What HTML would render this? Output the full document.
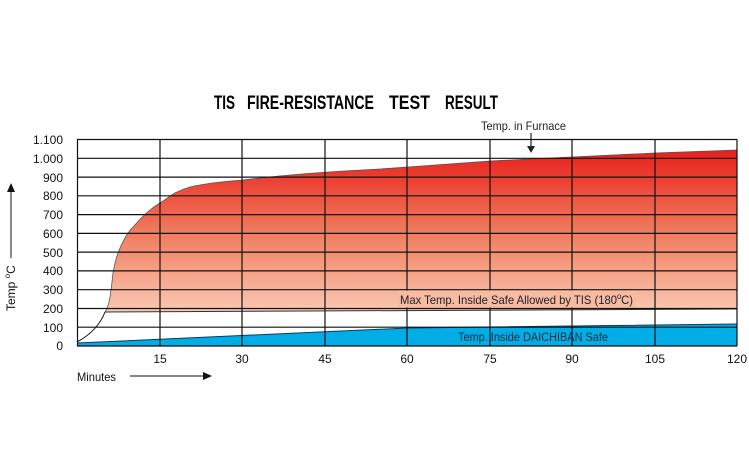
<!DOCTYPE html>
<html><head><meta charset="utf-8"><style>body{margin:0;background:#fff}svg{display:block}</style></head>
<body>
<svg width="749" height="473" viewBox="0 0 749 473" xmlns="http://www.w3.org/2000/svg" font-family="'Liberation Sans Narrow','Liberation Sans',sans-serif">
<defs>
<linearGradient id="rg" x1="0" y1="150" x2="0" y2="312" gradientUnits="userSpaceOnUse">
<stop offset="0" stop-color="#e8201c"/>
<stop offset="0.5" stop-color="#f07a5c"/>
<stop offset="1" stop-color="#fac8b2"/>
</linearGradient>
</defs>
<g font-size="19" font-weight="bold">
<text x="214" y="109" textLength="21" lengthAdjust="spacingAndGlyphs">TIS</text>
<text x="247" y="109" textLength="127" lengthAdjust="spacingAndGlyphs">FIRE-RESISTANCE</text>
<text x="389" y="109" textLength="41" lengthAdjust="spacingAndGlyphs">TEST</text>
<text x="445" y="109" textLength="53" lengthAdjust="spacingAndGlyphs">RESULT</text>
</g>
<path d="M105,312 C110,305 111,290 113,273 C115,262 116,258 118,253 C123,240 128,232 133,227 C140,219 145,214 150,210 C155,206 157,205 160,203 C168,198 172,194 177,192 C185,188 192,186 200,185 C215,182 230,181 243,180 C290,174 340,171 380,169 L408,167 L490,161 L572,157 L655,153 L737,150 L737,309 L105,312 Z" fill="url(#rg)"/>
<path d="M105,312 C110,305 111,290 113,273 C115,262 116,258 118,253 C123,240 128,232 133,227 C140,219 145,214 150,210 C155,206 157,205 160,203 C168,198 172,194 177,192 C185,188 192,186 200,185 C215,182 230,181 243,180 C290,174 340,171 380,169 L408,167 L490,161 L572,157 L655,153 L737,150" fill="none" stroke="#555" stroke-width="0.8"/>
<line x1="105" y1="312" x2="737" y2="309" stroke="#333" stroke-width="1"/>
<path d="M77,343 L408,328 L737,324 L737,346 L77,346 Z" fill="#00ade6"/>
<path d="M77,343 L408,328 L737,324" fill="none" stroke="#0b3b55" stroke-width="1"/>
<path d="M77,342 C90,335 100,325 105,312" fill="none" stroke="#111" stroke-width="1"/>
<g stroke="#111" stroke-width="1.2">
<line x1="77" y1="139.5" x2="737" y2="139.5"/>
<line x1="77" y1="158.3" x2="737" y2="158.3"/>
<line x1="77" y1="177.1" x2="737" y2="177.1"/>
<line x1="77" y1="195.8" x2="737" y2="195.8"/>
<line x1="77" y1="214.6" x2="737" y2="214.6"/>
<line x1="77" y1="233.4" x2="737" y2="233.4"/>
<line x1="77" y1="252.1" x2="737" y2="252.1"/>
<line x1="77" y1="270.9" x2="737" y2="270.9"/>
<line x1="77" y1="289.7" x2="737" y2="289.7"/>
<line x1="77" y1="308.5" x2="737" y2="308.5"/>
<line x1="77" y1="327.2" x2="737" y2="327.2"/>
<line x1="77" y1="346" x2="737" y2="346"/>
<line x1="77.5" y1="139.5" x2="77.5" y2="346"/>
<line x1="160" y1="139.5" x2="160" y2="346"/>
<line x1="242" y1="139.5" x2="242" y2="346"/>
<line x1="325" y1="139.5" x2="325" y2="346"/>
<line x1="407" y1="139.5" x2="407" y2="346"/>
<line x1="490" y1="139.5" x2="490" y2="346"/>
<line x1="572" y1="139.5" x2="572" y2="346"/>
<line x1="655" y1="139.5" x2="655" y2="346"/>
<line x1="737" y1="139.5" x2="737" y2="346"/>
</g>
<rect x="398" y="290.5" width="238" height="17" fill="#f7bba3"/>
<text x="400" y="304" font-size="12" fill="#222" textLength="233" lengthAdjust="spacingAndGlyphs">Max Temp. Inside Safe Allowed by TIS (180<tspan font-size="8" dy="-5">o</tspan><tspan dy="5">C)</tspan></text>
<text x="458" y="341" font-size="12" fill="#0a2a3a" textLength="150" lengthAdjust="spacingAndGlyphs">Temp. Inside DAICHIBAN Safe</text>
<text x="481" y="130" font-size="12" fill="#222" textLength="85" lengthAdjust="spacingAndGlyphs">Temp. in Furnace</text>
<line x1="531" y1="133" x2="531" y2="147" stroke="#222" stroke-width="1.2"/>
<path d="M527,146 L535,146 L531,153 Z" fill="#222"/>
<g font-size="12" fill="#111" text-anchor="end">
<text x="63" y="144">1.100</text><text x="63" y="163">1.000</text><text x="63" y="182">900</text>
<text x="63" y="200">800</text><text x="63" y="219">700</text><text x="63" y="238">600</text>
<text x="63" y="257">500</text><text x="63" y="275">400</text><text x="63" y="294">300</text>
<text x="63" y="313">200</text><text x="63" y="332">100</text><text x="63" y="350">0</text>
</g>
<g font-size="12" fill="#111" text-anchor="middle">
<text x="160" y="363">15</text><text x="242" y="363">30</text><text x="325" y="363">45</text>
<text x="407" y="363">60</text><text x="490" y="363">75</text><text x="572" y="363">90</text>
<text x="655" y="363">105</text><text x="737" y="363">120</text>
</g>
<text x="77" y="381" font-size="12" fill="#111" textLength="39" lengthAdjust="spacingAndGlyphs">Minutes</text>
<line x1="130" y1="376" x2="205" y2="376" stroke="#111" stroke-width="1"/>
<path d="M203,372 L212,376 L203,380 Z" fill="#111"/>
<text transform="translate(15,311) rotate(-90)" font-size="12" fill="#111">Temp <tspan font-size="8" dy="-5">o</tspan><tspan dy="5">C</tspan></text>
<line x1="11" y1="190" x2="11" y2="258" stroke="#111" stroke-width="1"/>
<path d="M7,192 L11,183 L15,192 Z" fill="#111"/>
</svg>
</body></html>
